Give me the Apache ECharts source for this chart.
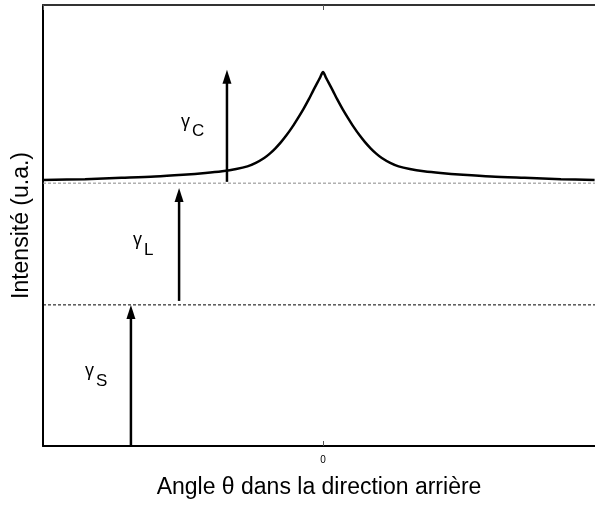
<!DOCTYPE html>
<html>
<head>
<meta charset="utf-8">
<script src="https://cdn.jsdelivr.net/npm/echarts@6/dist/echarts.min.js"></script>
<style>
  html, body { margin: 0; padding: 0; background: #fff; }
  #chart { width: 595px; height: 506px; }
</style>
</head>
<body>
<div id="chart"></div>
<script>
  // courbe d'intensite (cone de retrodiffusion), angle en unites arbitraires
  var curveX = [-1, -0.85, -0.72, -0.6, -0.5, -0.42, -0.36, -0.31, -0.27, -0.24, -0.21, -0.19, -0.17, -0.15,
                -0.13, -0.11, -0.09, -0.07, -0.05, -0.035, -0.02, -0.01, 0,
                0.01, 0.02, 0.035, 0.05, 0.07, 0.09, 0.11, 0.13, 0.15, 0.17, 0.19, 0.21, 0.24, 0.27,
                0.31, 0.36, 0.42, 0.5, 0.6, 0.72, 0.85, 0.97]
  var curveY = [60.3, 60.5, 60.8, 61.1, 61.5, 61.9, 62.3, 62.8, 63.4, 64.2, 65.3, 66.3, 67.5, 68.9,
                70.5, 72.3, 74.3, 76.4, 78.7, 80.6, 82.4, 83.6, 84.8,
                83.6, 82.4, 80.6, 78.7, 76.4, 74.3, 72.3, 70.5, 68.9, 67.5, 66.3, 65.3, 64.2, 63.4,
                62.8, 62.3, 61.9, 61.5, 61.1, 60.8, 60.5, 60.3]

  // niveaux en pointilles
  var levelGray = 59.6
  var levelBlack = 32.0

  // fleches gamma : position, depart, arrivee
  var arrowNames = ['S', 'L', 'C']
  var arrowX = [-0.686, -0.514, -0.343]
  var arrowFrom = [0, 32.9, 59.9]
  var arrowTo = [32.0, 58.5, 85.3]

  var xMin = -1
  var xMax = 0.9714

  var dom = echarts.init(document.getElementById('chart'))

  function renderArrow (params, api) {
    var base = api.coord([api.value(0), api.value(1)])
    var tip = api.coord([api.value(0), api.value(2)])
    var head = 14
    var hw = 4.5
    var mid = (base[1] + tip[1]) / 2
    var sub = arrowNames[params.dataIndex]
    return {
      type: 'group',
      children: [
        {
          type: 'line',
          shape: { x1: base[0], y1: base[1], x2: tip[0], y2: tip[1] + head - 2 },
          style: { stroke: '#000', lineWidth: 2.5 }
        },
        {
          type: 'polygon',
          shape: { points: [[tip[0], tip[1]], [tip[0] - hw, tip[1] + head], [tip[0] + hw, tip[1] + head]] },
          style: { fill: '#000' }
        },
        {
          type: 'text',
          x: tip[0] - 46,
          y: mid - 13,
          style: { text: 'γ', font: '18px "Liberation Sans"', fill: '#000', align: 'left', verticalAlign: 'top' }
        },
        {
          type: 'text',
          x: tip[0] - 35,
          y: mid - 3,
          style: { text: sub, font: '17px "Liberation Sans"', fill: '#000', align: 'left', verticalAlign: 'top' }
        }
      ]
    }
  }

  const option = {
    animation: false,
    textStyle: { fontFamily: 'Liberation Sans' },
    grid: { left: 43, top: 5, right: 0, height: 441 },
    xAxis: [
      {
        type: 'value',
        min: xMin,
        max: xMax,
        interval: 1,
        position: 'bottom',
        axisLine: { onZero: false, lineStyle: { color: '#000', width: 2 } },
        axisTick: { inside: true, length: 5, lineStyle: { color: '#555', width: 1 } },
        axisLabel: { showMinLabel: false, showMaxLabel: false, fontSize: 10, color: '#000', margin: 9 },
        splitLine: { show: false },
        name: 'Angle θ dans la direction arrière',
        nameLocation: 'middle',
        nameGap: 30,
        nameTextStyle: { fontSize: 23, color: '#000' }
      },
      {
        type: 'value',
        min: xMin,
        max: xMax,
        interval: 1,
        position: 'top',
        axisLine: { onZero: false, lineStyle: { color: '#333', width: 2 } },
        axisTick: { inside: true, length: 5, lineStyle: { color: '#555', width: 1 } },
        axisLabel: { show: false },
        splitLine: { show: false }
      }
    ],
    yAxis: {
      type: 'value',
      min: 0,
      max: 100,
      axisLine: { show: true, onZero: false, lineStyle: { color: '#000', width: 2 } },
      axisTick: { show: false },
      axisLabel: { show: false },
      splitLine: { show: false },
      name: 'Intensité (u.a.)',
      nameLocation: 'middle',
      nameGap: 10,
      nameTextStyle: { fontSize: 23, color: '#000' }
    },
    series: [
      {
        type: 'line',
        data: [[xMin, levelGray], [xMax, levelGray]],
        symbol: 'none',
        lineStyle: { color: '#888', width: 1, type: [3, 2] },
        z: 1
      },
      {
        type: 'line',
        data: [[xMin, levelBlack], [xMax, levelBlack]],
        symbol: 'none',
        lineStyle: { color: '#000', width: 1, type: [3, 2] },
        z: 1
      },
      {
        type: 'line',
        data: curveX.map(function (x, i) { return [x, curveY[i]] }),
        symbol: 'none',
        smooth: 0.3,
        lineStyle: { color: '#000', width: 2.5 },
        z: 3
      },
      {
        type: 'custom',
        renderItem: renderArrow,
        data: arrowX.map(function (x, i) { return [x, arrowFrom[i], arrowTo[i]] }),
        z: 4
      }
    ]
  }

  dom.setOption(option)
</script>
</body>
</html>
